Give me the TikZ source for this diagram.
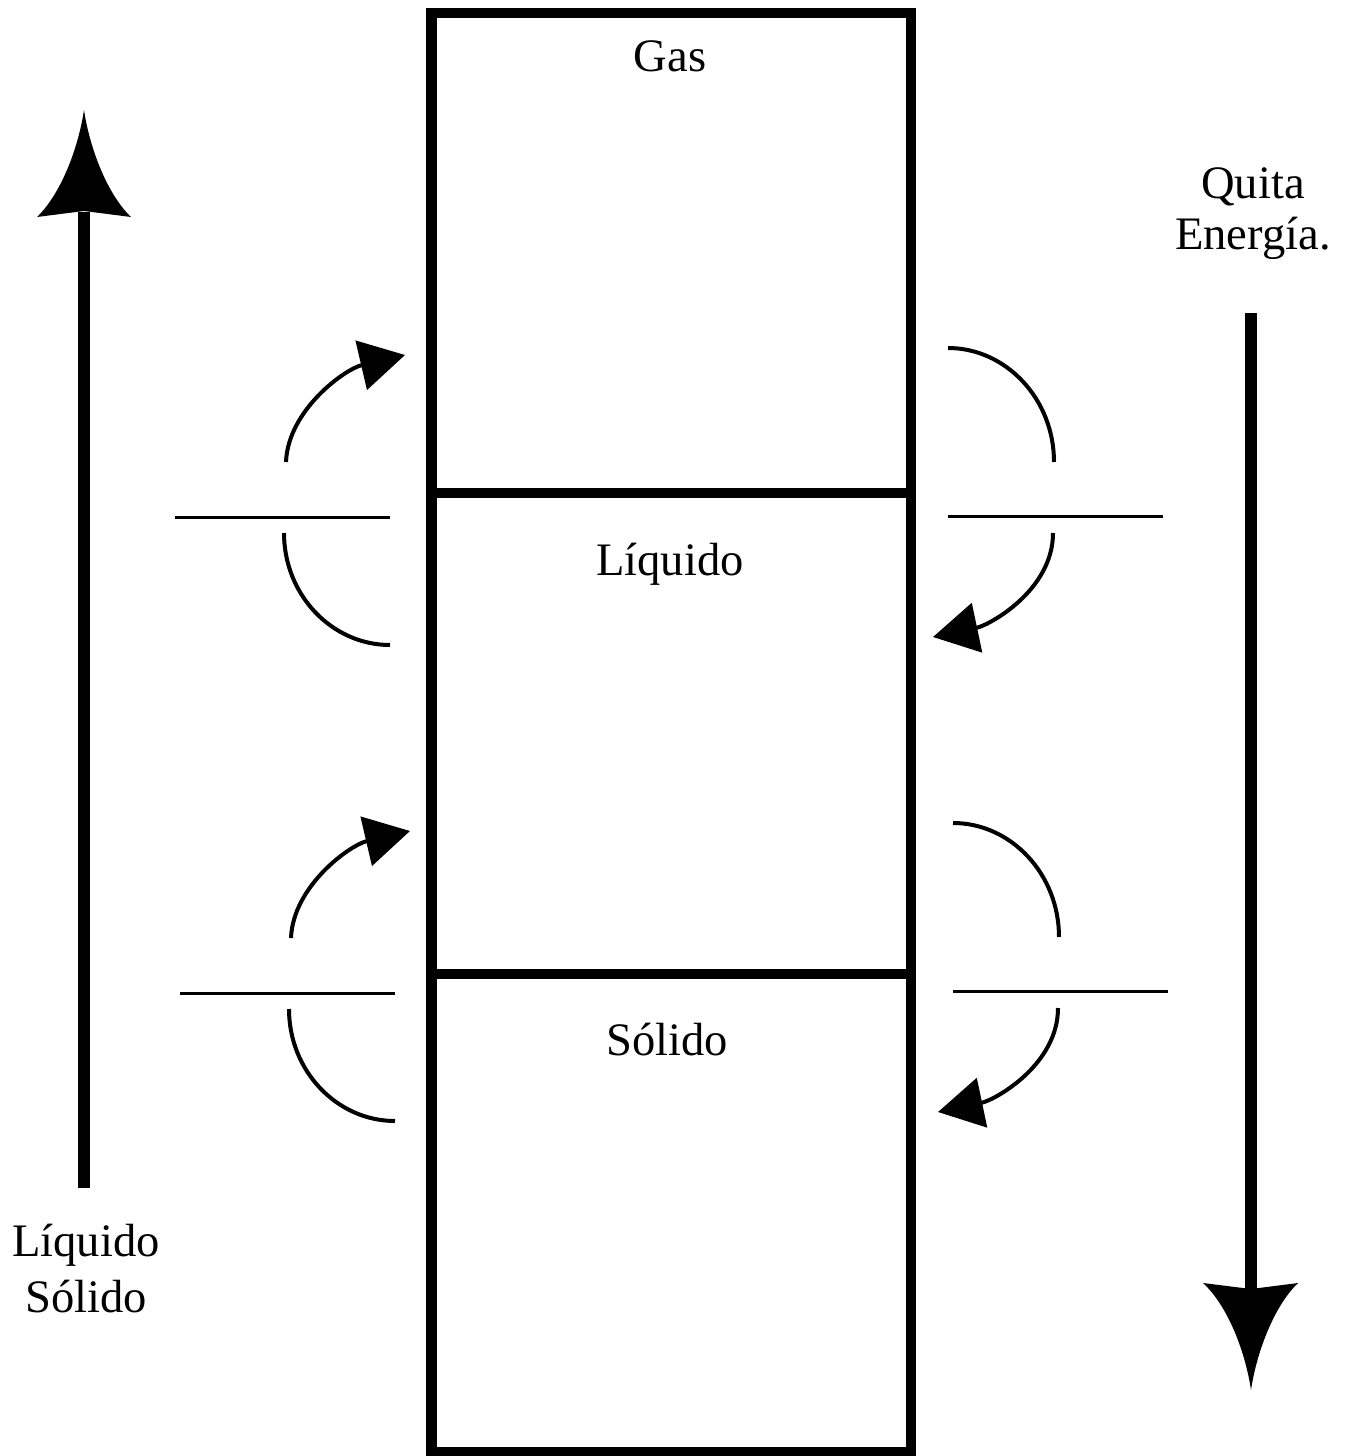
\documentclass[tikz,border=0pt]{standalone}
\usepackage{fontspec}
\setmainfont{Liberation Serif}
\usetikzlibrary{arrows.meta}
\begin{document}
\begin{tikzpicture}[x=0.02cm,y=-0.02cm,
  box/.style={draw,line width=0.21cm},
  lbl/.style={font=\fontsize{26.5}{32}\selectfont,anchor=base,inner sep=0pt},
  bar/.style={line width=0.06cm},
  arcline/.style={line width=0.08cm},
  arcarrow/.style={arcline,-{Triangle[length=0.9cm,width=1cm]}},
  shaft/.style={line width=0.23cm},
  head/.style={fill=black}]
\useasboundingbox (0,0) rectangle (1351,1456);
% boxes
\draw[box] (431.5,13) rectangle (911,493);
\draw[box] (431.5,493) rectangle (911,974);
\draw[box] (431.5,974) rectangle (911,1452);
% box labels
\node[lbl] (gas) at (670,72) {Gas};
\node[lbl] (liq) at (670,575) {Líquido};
\node[lbl] (sol) at (667,1055) {Sólido};
% right label
\node[lbl] (quita) at (1253,199) {Quita};
\node[lbl] (energia) at (1253,250) {Energía.};
% left label
\node[lbl] (lliq) at (86,1256) {Líquido};
\node[lbl] (lsol) at (86,1312) {Sólido};
% left big arrow
\coordinate (lbot) at (84,1188);
\coordinate (ltop) at (84,212);
\draw[shaft] (lbot) -- (ltop);
\fill[head] (84,110) .. controls (78,150) and (60,195) .. (37,217) -- (84,211) -- (131,217) .. controls (108,195) and (90,150) .. (84,110) -- cycle;
% right big arrow
\coordinate (rtop) at (1251,313);
\coordinate (rbot) at (1251,1289);
\draw[shaft] (rtop) -- (rbot);
\fill[head] (1251,1390) .. controls (1245,1350) and (1227,1305) .. (1203,1283) -- (1251,1289) -- (1298,1283) .. controls (1275,1305) and (1257,1350) .. (1251,1390) -- cycle;
% left transitions
\foreach \dx/\dy in {0/0, 5/476}{
  \begin{scope}[shift={(\dx,\dy)}]
    \draw[bar] (175,517) -- (390,517);
    \draw[arcarrow] (286,462) .. controls (288,410) and (345,369) .. (405,355);
    \draw[arcline] (284,533) .. controls (284,595) and (332,645) .. (390,645);
  \end{scope}
}
% right transitions
\foreach \dx/\dy in {0/0, 5/475}{
  \begin{scope}[shift={(\dx,\dy)}]
    \draw[bar] (948,516) -- (1163,516);
    \draw[arcline] (948,348) .. controls (1006,348) and (1054,399) .. (1054,462);
    \draw[arcarrow] (1053,533) .. controls (1053,590) and (990,625) .. (933,637);
  \end{scope}
}
\end{tikzpicture}
\end{document}
